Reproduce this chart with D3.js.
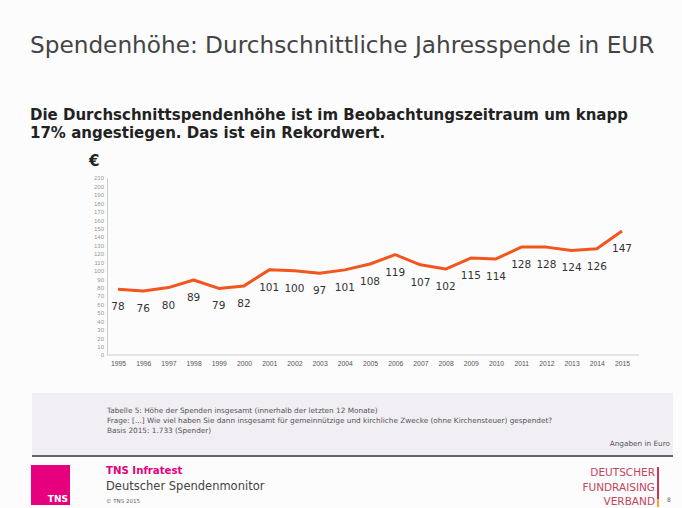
<!DOCTYPE html>
<html>
<head>
<meta charset="utf-8">
<script src="https://cdn.jsdelivr.net/npm/d3@7"></script>
<style>
  body { margin: 0; background: #fbfcfb; }
  svg { display: block; font-family: "DejaVu Sans", Verdana, sans-serif; }
</style>
</head>
<body>
<div id="chart"></div>
<script>
// data
var years = ["1995","1996","1997","1998","1999","2000","2001","2002","2003","2004",
             "2005","2006","2007","2008","2009","2010","2011","2012","2013","2014","2015"];
var spende = [78, 76, 80, 89, 79, 82, 101, 100, 97, 101, 108, 119, 107, 102, 115, 114, 128, 128, 124, 126, 147];
var yTicks = d3.range(0, 211, 10);

var W = 682, H = 508;
var svg = d3.select("#chart").append("svg")
    .attr("width", W)
    .attr("height", H);

svg.append("rect").attr("width", W).attr("height", H).attr("fill", "#fbfcfb");

// headings
svg.append("text")
    .attr("x", 30).attr("y", 53)
    .attr("font-size", 23.2)
    .attr("fill", "#444")
    .text("Spendenhöhe: Durchschnittliche Jahresspende in EUR");

svg.append("text")
    .attr("x", 30).attr("y", 120)
    .attr("font-size", 15).attr("font-weight", "bold")
    .attr("fill", "#222")
    .text("Die Durchschnittspendenhöhe ist im Beobachtungszeitraum um knapp");
svg.append("text")
    .attr("x", 30).attr("y", 138)
    .attr("font-size", 15).attr("font-weight", "bold")
    .attr("fill", "#222")
    .text("17% angestiegen. Das ist ein Rekordwert.");

svg.append("text")
    .attr("x", 89).attr("y", 166)
    .attr("font-size", 15).attr("font-weight", "bold")
    .attr("fill", "#222")
    .text("€");

// chart area
var margin = {left: 107, top: 178, right: 48, bottom: 153};
var g = svg.append("g")
    .attr("transform", "translate(" + margin.left + "," + margin.top + ")");
var width = W - margin.left - margin.right,
    height = H - margin.top - margin.bottom;

var x = d3.scalePoint()
    .domain(years)
    .range([11, 515]);

var y = d3.scaleLinear()
    .domain([0, 210])
    .range([height, 0]);

var yAxis = d3.axisLeft(y).tickValues(yTicks).tickSize(0).tickPadding(3);
var gy = g.append("g").call(yAxis);
gy.select(".domain").attr("stroke", "#ccc");
gy.selectAll("text").attr("font-size", 6).attr("fill", "#999");

var xAxis = d3.axisBottom(x).tickSize(0).tickPadding(6);
var gx = g.append("g")
    .attr("transform", "translate(0," + height + ")")
    .call(xAxis);
gx.select(".domain").attr("stroke", "#ccc").attr("d", "M0,0H" + (width + 5));
gx.selectAll("text").attr("font-size", 6.8).attr("fill", "#555");

var line = d3.line()
    .x(function(d, i) { return x(years[i]); })
    .y(function(d) { return y(d); });

g.append("path")
    .datum(spende)
    .attr("fill", "none")
    .attr("stroke", "#f2561d")
    .attr("stroke-width", 3)
    .attr("stroke-linejoin", "round")
    .attr("d", line);

g.selectAll(".lbl")
    .data(spende)
    .enter().append("text")
    .attr("class", "lbl")
    .attr("x", function(d, i) { return x(years[i]); })
    .attr("y", function(d) { return y(d) + 21; })
    .attr("text-anchor", "middle")
    .attr("font-size", 10.5)
    .attr("fill", "#333")
    .text(function(d) { return d; });

// note box
svg.append("rect")
    .attr("x", 32).attr("y", 393)
    .attr("width", 641).attr("height", 62)
    .attr("fill", "#f1eff3");
svg.append("line")
    .attr("x1", 32).attr("x2", 673)
    .attr("y1", 456).attr("y2", 456)
    .attr("stroke", "#666").attr("stroke-width", 2);

var notes = ["Tabelle 5: Höhe der Spenden insgesamt (innerhalb der letzten 12 Monate)",
             "Frage: [...] Wie viel haben Sie dann insgesamt für gemeinnützige und kirchliche Zwecke (ohne Kirchensteuer) gespendet?",
             "Basis 2015: 1.733 (Spender)"];
svg.selectAll(".note")
    .data(notes)
    .enter().append("text")
    .attr("class", "note")
    .attr("x", 107)
    .attr("y", function(d, i) { return 413 + i * 10; })
    .attr("font-size", 7.3)
    .attr("fill", "#555")
    .text(function(d) { return d; });

svg.append("text")
    .attr("x", 670).attr("y", 446)
    .attr("text-anchor", "end")
    .attr("font-size", 7.3).attr("fill", "#555")
    .text("Angaben in Euro");

// footer
svg.append("rect")
    .attr("x", 31).attr("y", 465)
    .attr("width", 39).attr("height", 40)
    .attr("fill", "#e6007e");
svg.append("text")
    .attr("x", 68).attr("y", 502)
    .attr("text-anchor", "end")
    .attr("font-size", 9).attr("font-weight", "bold")
    .attr("fill", "#fff")
    .text("TNS");

svg.append("text")
    .attr("x", 106).attr("y", 474)
    .attr("font-size", 10.2).attr("font-weight", "bold")
    .attr("fill", "#e6007e")
    .text("TNS Infratest");
svg.append("text")
    .attr("x", 106).attr("y", 490)
    .attr("font-size", 11.5)
    .attr("fill", "#444")
    .text("Deutscher Spendenmonitor");
svg.append("text")
    .attr("x", 106).attr("y", 503)
    .attr("font-size", 5.5)
    .attr("fill", "#666")
    .text("© TNS 2015");

var dfv = ["DEUTSCHER", "FUNDRAISING", "VERBAND"];
svg.selectAll(".dfv")
    .data(dfv)
    .enter().append("text")
    .attr("class", "dfv")
    .attr("x", 655)
    .attr("y", function(d, i) { return 476 + i * 14.5; })
    .attr("text-anchor", "end")
    .attr("font-size", 10.5)
    .attr("fill", "#c5445a")
    .text(function(d) { return d; });
svg.append("rect")
    .attr("x", 657).attr("y", 467)
    .attr("width", 2).attr("height", 32)
    .attr("fill", "#c8374f");
svg.append("rect")
    .attr("x", 657).attr("y", 499)
    .attr("width", 2).attr("height", 8)
    .attr("fill", "#f3a530");
svg.append("text")
    .attr("x", 667).attr("y", 502)
    .attr("font-size", 6).attr("fill", "#666")
    .text("8");
</script>
</body>
</html>
